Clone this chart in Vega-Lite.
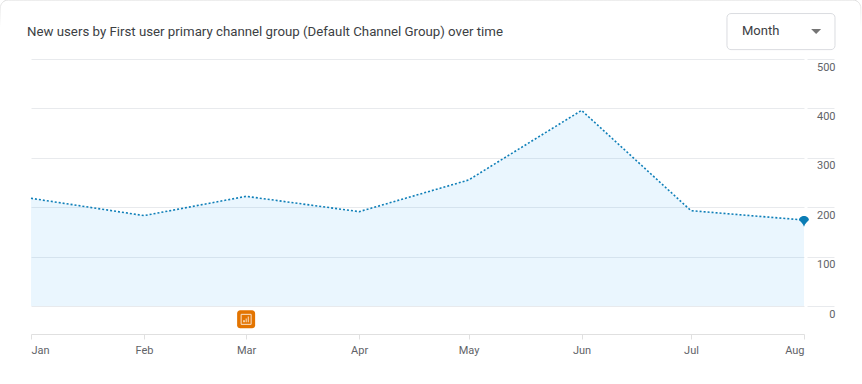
{
 "$schema":"https://vega.github.io/schema/vega-lite/v6.json",
 "width":773,"height":275,
 "autosize":{"type":"none"},
 "padding":{"left":31,"top":59,"right":58,"bottom":50},
 "background":"#ffffff",
 "view":{"stroke":null},
 "title":{"text":"New users by First user primary channel group (Default Channel Group) over time","anchor":"start","frame":"group","dx":-4,"offset":-40,"font":"Roboto","fontSize":13.25,"fontWeight":"normal","color":"#3c4043"},
 "data":{"values":[
  {"month":"2023-01-01T00:00:00","new_users":218},
  {"month":"2023-02-01T00:00:00","new_users":183},
  {"month":"2023-03-01T00:00:00","new_users":222},
  {"month":"2023-04-01T00:00:00","new_users":191},
  {"month":"2023-05-01T00:00:00","new_users":255},
  {"month":"2023-06-01T00:00:00","new_users":396},
  {"month":"2023-07-01T00:00:00","new_users":193},
  {"month":"2023-08-01T00:00:00","new_users":174}
 ]},
 "resolve":{"scale":{"x":"shared","y":"shared"}},
 "layer":[
  {"data":{"values":[{"part":"card"}]},
   "mark":{"type":"rect","fill":"transparent","stroke":{"gradient":"linear","x1":0,"y1":0,"x2":0,"y2":1,"stops":[{"offset":0,"color":"#dcdcdc"},{"offset":0.02,"color":"#ececec"},{"offset":0.06,"color":"#ffffff"},{"offset":1,"color":"#ffffff"}]},"strokeWidth":1,"cornerRadius":8,"clip":false},
   "encoding":{
    "x":{"datum":{"year":2022,"month":12,"date":23,"hours":14},"type":"temporal"},
    "x2":{"datum":{"year":2023,"month":8,"date":16,"hours":14}},
    "y":{"datum":619.4,"type":"quantitative"},
    "y2":{"datum":-300}}},
  {"mark":{"type":"area","color":"#3fb0f5","opacity":0.11,"clip":false},
   "encoding":{
    "x":{"field":"month","type":"temporal","title":null,
     "scale":{"domain":[{"year":2023,"month":1,"date":1},{"year":2023,"month":8,"date":1}],"nice":false},
     "axis":{"orient":"bottom","format":"%b","tickCount":{"interval":"month","step":1},"grid":false,"labelFlush":true,"labelFont":"Roboto","labelFontSize":11,"labelColor":"#5f6368","labelPadding":5,"tickColor":"#e0e0e0","tickSize":5,"domainColor":"#e0e0e0","labelOverlap":false}},
    "y":{"field":"new_users","type":"quantitative","title":null,
     "scale":{"domain":[-56.68,500],"nice":false,"zero":false},
     "axis":{"orient":"right","values":[0,100,200,300,400,500],"domain":false,"offset":3,"tickSize":27,"tickColor":"#e8eaed","gridColor":"#e8eaed","grid":true,"labelAlign":"right","labelBaseline":"top","labelPadding":1,"labelOffset":2,"labelFont":"Roboto","labelFontSize":11,"labelColor":"#5f6368"}},
    "y2":{"datum":0}}},
  {"mark":{"type":"line","color":"#0f7fb8","strokeWidth":1.6,"strokeDash":[2,2],"clip":false},
   "encoding":{
    "x":{"field":"month","type":"temporal"},
    "y":{"field":"new_users","type":"quantitative"}}},
  {"transform":[{"filter":"month(datum.month)===7"}],
   "mark":{"type":"point","filled":true,"opacity":1,"color":"#0b7db5","size":324,"clip":false,"shape":"M-0.55,0 A0.55,0.45 0 1 1 0.55,0 C0.4,0.2 0.1,0.35 0,0.75 C-0.1,0.35 -0.4,0.2 -0.55,0 Z"},
   "encoding":{
    "x":{"field":"month","type":"temporal"},
    "y":{"field":"new_users","type":"quantitative"}}},
  {"data":{"values":[{"event":"annotation"}]},
   "mark":{"type":"point","filled":true,"opacity":1,"color":"#e37400","size":1296,"clip":false,"shape":"M-0.33,-0.5 H0.33 A0.17,0.17 0 0 1 0.5,-0.33 V0.33 A0.17,0.17 0 0 1 0.33,0.5 H-0.33 A0.17,0.17 0 0 1 -0.5,0.33 V-0.33 A0.17,0.17 0 0 1 -0.33,-0.5 Z"},
   "encoding":{
    "x":{"datum":{"year":2023,"month":3,"date":1},"type":"temporal"},
    "y":{"datum":-27,"type":"quantitative"}}},
  {"data":{"values":[{"event":"annotation"}]},
   "mark":{"type":"point","filled":false,"opacity":0.8,"color":"#ffffff","strokeWidth":1,"size":100,"shape":"square","clip":false},
   "encoding":{
    "x":{"datum":{"year":2023,"month":3,"date":1},"type":"temporal"},
    "y":{"datum":-27,"type":"quantitative"}}},
  {"data":{"values":[{"event":"annotation"}]},
   "mark":{"type":"point","filled":true,"opacity":0.7,"color":"#ffffff","size":256,"clip":false,"shape":"M-0.38,0.12 H-0.15 V0.35 H-0.38 Z M-0.06,-0.1 H0.08 V0.35 H-0.06 Z M0.2,-0.35 H0.34 V0.35 H0.2 Z"},
   "encoding":{
    "x":{"datum":{"year":2023,"month":3,"date":1},"type":"temporal"},
    "y":{"datum":-27,"type":"quantitative"}}},
  {"data":{"values":[{"control":"Month"}]},
   "mark":{"type":"rect","fill":"transparent","stroke":"#dadce0","strokeWidth":1,"cornerRadius":4,"clip":false},
   "encoding":{
    "x":{"datum":{"year":2023,"month":7,"date":10,"hours":21},"type":"temporal"},
    "x2":{"datum":{"year":2023,"month":8,"date":9,"hours":12}},
    "y":{"datum":592,"type":"quantitative"},
    "y2":{"datum":519}}},
  {"data":{"values":[{"control":"Month"}]},
   "mark":{"type":"text","align":"left","baseline":"middle","font":"Roboto","fontSize":13,"color":"#3c4043","clip":false},
   "encoding":{
    "x":{"datum":{"year":2023,"month":7,"date":15},"type":"temporal"},
    "y":{"datum":555.7,"type":"quantitative"},
    "text":{"field":"control"}}},
  {"data":{"values":[{"control":"Month"}]},
   "mark":{"type":"point","filled":true,"opacity":1,"color":"#757575","size":400,"clip":false,"shape":"M-0.5,-0.25 H0.5 L0,0.25 Z"},
   "encoding":{
    "x":{"datum":{"year":2023,"month":8,"date":4,"hours":8},"type":"temporal"},
    "y":{"datum":555.7,"type":"quantitative"}}}
 ]
}
